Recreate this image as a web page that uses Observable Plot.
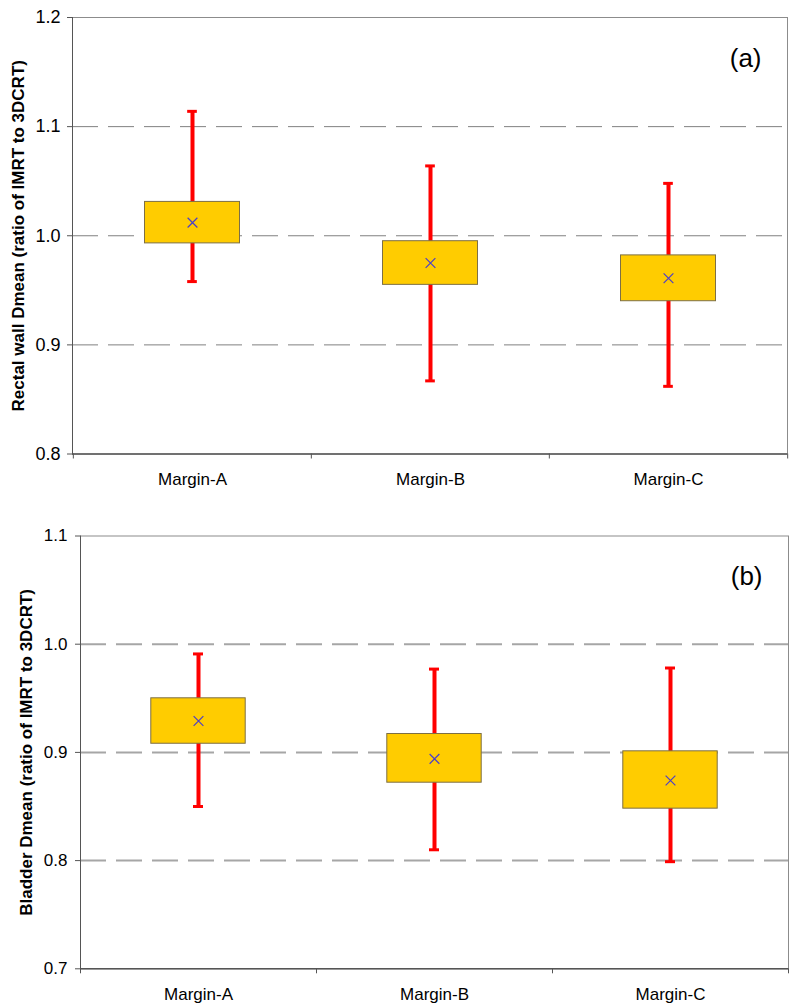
<!DOCTYPE html>
<html>
<head>
<meta charset="utf-8">
<script src="https://cdn.jsdelivr.net/npm/d3@7"></script>
<script src="https://cdn.jsdelivr.net/npm/@observablehq/plot@0.6"></script>
<style>
  body { margin: 0; background: #fff; }
  #chart svg { display: block; }
</style>
</head>
<body>
<div id="chart"></div>
<script>
// ---- data ----
const categories = ["Margin-A", "Margin-B", "Margin-C"];

const rectalLow  = [0.958, 0.867, 0.862];
const rectalQ1   = [0.993, 0.955, 0.940];
const rectalMean = [1.012, 0.975, 0.961];
const rectalQ3   = [1.031, 0.995, 0.982];
const rectalHigh = [1.114, 1.064, 1.048];

const bladderLow  = [0.850, 0.810, 0.799];
const bladderQ1   = [0.908, 0.872, 0.848];
const bladderMean = [0.929, 0.894, 0.874];
const bladderQ3   = [0.950, 0.917, 0.901];
const bladderHigh = [0.991, 0.977, 0.978];

const rectalTicks  = [0.8, 0.9, 1.0, 1.1, 1.2];
const rectalGrid   = [0.9, 1.0, 1.1];
const bladderTicks = [0.7, 0.8, 0.9, 1.0, 1.1];
const bladderGrid  = [0.8, 0.9, 1.0];

const rectalLabel  = "Rectal wall Dmean (ratio of IMRT to 3DCRT)";
const bladderLabel = "Bladder Dmean (ratio of IMRT to 3DCRT)";

function makePanel(o) {
  const rows = categories.map((c, i) => ({
    cat: c, low: o.low[i], q1: o.q1[i], mean: o.mean[i], q3: o.q3[i], high: o.high[i]
  }));
  const width = 800;
  const bw = (width - o.ml - o.mr) / categories.length;
  const boxInset = bw * 0.3;
  const capInset = bw / 2 - 5;
  const y0 = o.ticks[0];
  return Plot.plot({
    width,
    height: o.height,
    marginTop: o.mt,
    marginBottom: o.mb,
    marginLeft: o.ml,
    marginRight: o.mr,
    style: { fontFamily: "'Liberation Sans', Arial, sans-serif", background: "white", color: "black" },
    x: { type: "band", domain: categories, padding: 0, label: null },
    y: { domain: [o.ticks[0], o.ticks[o.ticks.length - 1]], label: null },
    marks: [
      Plot.ruleY(o.grid, { stroke: o.gridColor, strokeWidth: o.gridWidth, strokeDasharray: "26,10" }),
      Plot.frame({ stroke: "#8c8c8c" }),
      Plot.frame({ anchor: "left", stroke: "#555" }),
      Plot.ruleY([y0], { stroke: "#555", strokeWidth: 1.5 }),
      Plot.ruleX(categories, { x: d => d, y1: y0, y2: y0, dx: -bw / 2, insetTop: 5, stroke: "#555" }),
      Plot.ruleX(categories.slice(-1), { x: d => d, y1: y0, y2: y0, dx: bw / 2, insetTop: 5, stroke: "#555" }),
      Plot.axisY({ ticks: o.ticks, tickFormat: ".1f", tickSize: 5, tickPadding: o.tickPad, fontSize: o.tickFont, stroke: "#555", color: "black", label: null }),
      Plot.axisX({ tickSize: 0, tickPadding: 19, fontSize: 17, color: "black", label: null }),
      Plot.text([o.yLabel], { text: d => d, frameAnchor: "left", textAnchor: "middle", lineAnchor: "middle", rotate: -90, dx: -54, fontSize: 17, fontWeight: "bold", fill: "black" }),
      Plot.text([o.tag], { text: d => d, frameAnchor: "top-right", textAnchor: "end", lineAnchor: "middle", dx: -26, dy: 41, fontSize: 26, fill: "black" }),
      Plot.ruleX(rows, { x: "cat", y1: "low", y2: "high", stroke: "#ff0000", strokeWidth: 4 }),
      Plot.tickY(rows, { x: "cat", y: "low", stroke: "#ff0000", strokeWidth: 3, insetLeft: capInset, insetRight: capInset }),
      Plot.tickY(rows, { x: "cat", y: "high", stroke: "#ff0000", strokeWidth: 3, insetLeft: capInset, insetRight: capInset }),
      Plot.barY(rows, { x: "cat", y1: "q1", y2: "q3", fill: "#ffcc00", stroke: "#7d6f45", strokeWidth: 1, insetLeft: boxInset, insetRight: boxInset }),
      Plot.dot(rows, { x: "cat", y: "mean", symbol: "times", r: 4.5, stroke: "#4b3fc8", strokeWidth: 1.2 })
    ]
  });
}

const chart = document.getElementById("chart");
chart.append(makePanel({
  height: 500, mt: 17, mb: 46.5, ml: 72, mr: 13,
  ticks: rectalTicks, grid: rectalGrid, gridColor: "#808080", gridWidth: 1,
  low: rectalLow, q1: rectalQ1, mean: rectalMean, q3: rectalQ3, high: rectalHigh,
  yLabel: rectalLabel, tag: "(a)", tickFont: 18, tickPad: 7
}));
chart.append(makePanel({
  height: 507, mt: 35.5, mb: 38.7, ml: 80, mr: 12,
  ticks: bladderTicks, grid: bladderGrid, gridColor: "#a6a6a6", gridWidth: 2,
  low: bladderLow, q1: bladderQ1, mean: bladderMean, q3: bladderQ3, high: bladderHigh,
  yLabel: bladderLabel, tag: "(b)", tickFont: 17, tickPad: 8
}));
</script>
</body>
</html>
